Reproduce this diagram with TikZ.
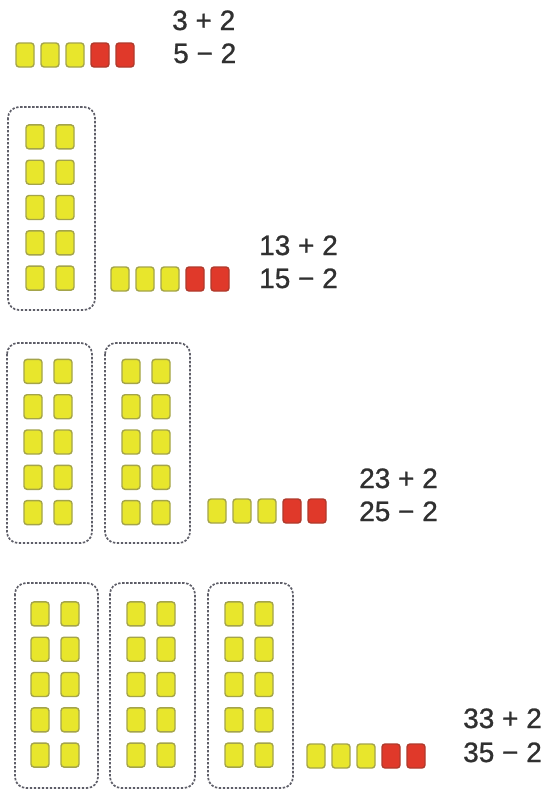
\documentclass[tikz,border=0pt]{standalone}
\usepackage{fontspec}
\setmainfont{Liberation Sans}
\newfontface\eqfont{Liberation Sans}[FakeBold=0.9]
\definecolor{cubeyellow}{HTML}{E8E62C}
\definecolor{cubeyedge}{HTML}{A4A44A}
\definecolor{cubered}{HTML}{E0392A}
\definecolor{cuberedge}{HTML}{B03A2C}
\definecolor{framegray}{HTML}{5E5E68}
\definecolor{textgray}{HTML}{303030}
\tikzset{
  cubebase/.style={rectangle, rounded corners=3pt, line width=1.4pt, minimum width=18pt, minimum height=24pt, inner sep=0pt},
  ycube/.style={cubebase, fill=cubeyellow, draw=cubeyedge},
  rcube/.style={cubebase, fill=cubered, draw=cuberedge},
  tenbox/.style={draw=framegray, line width=1.7pt, dash pattern=on 2.4pt off 1.6pt, rounded corners=11pt},
  eqtext/.style={anchor=base west, inner sep=0pt, font=\eqfont\fontsize{28}{30}\selectfont, text=textgray}
}
% ten frame: name, left, top, right, bottom
\newcommand\tenframe[5]{%
  \draw[tenbox] (#2,#3) rectangle (#4,#5);
  \coordinate (#1-c) at ({(#2+#4)/2},{(#3+#5)/2});
  \foreach \r in {0,...,4}{
    \node[ycube] (#1-\r-a) at ($(#1-c)+(-16.5,{(\r-2)*35.3-1})$) {};
    \node[ycube] (#1-\r-b) at ($(#1-c)+(13.5,{(\r-2)*35.3-1})$) {};
  }%
}
% strip of 3 yellow + 2 red: name, first x, y
\newcommand\cubestrip[3]{%
  \foreach \k in {0,1,2}{\node[ycube] (#1-\k) at ({#2+25*\k},#3) {};}
  \foreach \k in {3,4}{\node[rcube] (#1-\k) at ({#2+25*\k},#3) {};}
}
\usetikzlibrary{calc}
\begin{document}
\begin{tikzpicture}[x=1pt,y=-1pt]
\useasboundingbox[fill=white] (0,0) rectangle (551,790);
% row 1
\cubestrip{s1}{25}{55}
\node[eqtext] (e1a) at (172,30) {3 + 2};
\node[eqtext] (e1b) at (173,63) {5 − 2};
% row 2
\tenframe{f21}{8}{107}{95}{310}
\cubestrip{s2}{120}{279}
\node[eqtext] (e2a) at (259,255) {13 + 2};
\node[eqtext] (e2b) at (259,288) {15 − 2};
% row 3
\tenframe{f31}{7}{343}{92}{543}
\tenframe{f32}{105}{343}{190}{543}
\cubestrip{s3}{217}{511}
\node[eqtext] (e3a) at (359,488) {23 + 2};
\node[eqtext] (e3b) at (359,521) {25 − 2};
% row 4
\tenframe{f41}{15}{583}{98}{788}
\tenframe{f42}{110}{583}{195}{788}
\tenframe{f43}{208}{583}{293}{788}
\cubestrip{s4}{316}{756}
\node[eqtext] (e4a) at (463,728) {33 + 2};
\node[eqtext] (e4b) at (463,762) {35 − 2};
\end{tikzpicture}
\end{document}
